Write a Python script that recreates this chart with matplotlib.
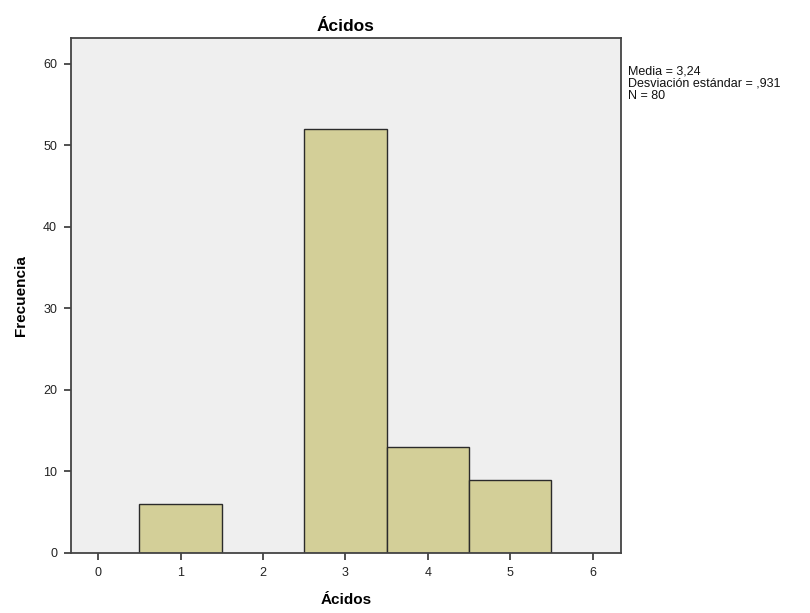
import matplotlib.pyplot as plt

plt.rcParams['font.family'] = ['Liberation Sans', 'DejaVu Sans']

valores = [1, 3, 4, 5]
frecuencias = [6, 52, 13, 9]
xticks = [0, 1, 2, 3, 4, 5, 6]
yticks = [0, 10, 20, 30, 40, 50, 60]
stats = "Media = 3,24\nDesviación estándar = ,931\nN = 80"

fig = plt.figure(figsize=(8.1, 6.13), dpi=100)
ax = fig.add_axes([0.0877, 0.0979, 0.6786, 0.8406])
ax.set_facecolor('#efefef')

ax.bar(valores, frecuencias, width=1.0, color='#d3cf98', edgecolor='#2b2b2b', linewidth=1.0)

ax.set_xlim(-0.33, 6.34)
ax.set_ylim(0, 63.2)
ax.set_xticks(xticks)
ax.set_yticks(yticks)
ax.tick_params(direction='out', length=5, width=1.2, color='#333333', labelsize=9, labelcolor='#222222', pad=5)
for s in ax.spines.values():
    s.set_color('#444444')
    s.set_linewidth(1.3)

ax.set_title("Ácidos", fontsize=12.5, fontweight='bold', pad=5)
ax.set_xlabel("Ácidos", fontsize=11, fontweight='bold', labelpad=10)
ax.set_ylabel("Frecuencia", fontsize=11, fontweight='bold', labelpad=11)

fig.text(628 / 810, 1 - 66 / 613, stats, fontsize=9, va='top', ha='left', linespacing=0.98, color='#111111')

fig.savefig("out.png", dpi=100)
